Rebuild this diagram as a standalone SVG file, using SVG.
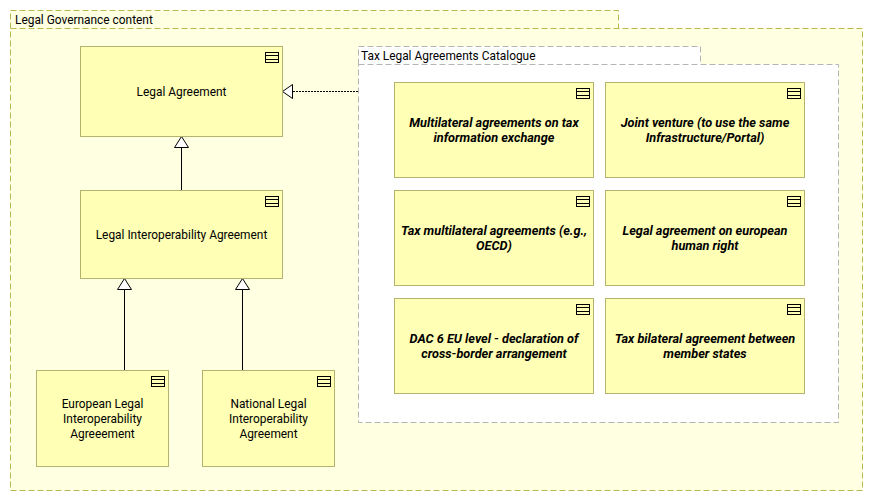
<svg xmlns="http://www.w3.org/2000/svg" width="873" height="501" viewBox="0 0 873 501">
<style>
text{font-family:"Roboto","Noto Sans","Liberation Sans",sans-serif;font-size:11.9px;fill:#000}
.c{text-anchor:middle}
.bi{font-weight:700;font-style:italic;font-size:12.7px}
.box{fill:#ffffb5;stroke:#b4b46e;stroke-width:1}
.ic{fill:none;stroke:#000;stroke-width:1}
.gy{fill:#ffffe1;stroke:#b9b94b;stroke-width:1;stroke-dasharray:6 3}
.gw{fill:#fff;stroke:#b4b4b4;stroke-width:1;stroke-dasharray:6 3}
.ln{fill:none;stroke:#000;stroke-width:1}
.hd{fill:#fff;stroke:#000;stroke-width:1}
</style>
<defs>
<g id="icon"><rect class="ic" x="0.5" y="0.5" width="13" height="10"/><path class="ic" d="M0.5 3.5H13.5M0.5 7.5H13.5"/></g>
</defs>
<rect width="873" height="501" fill="#fff"/>
<g id="legal-governance">
<path class="gy" d="M10.5 28.5V10.5H618.5V28.5"/>
<rect class="gy" x="10.5" y="28.5" width="852" height="462"/>
<path d="M11 11H618V28H11Z" fill="#ffffe1"/>
<text x="15" y="24">Legal Governance content</text>
</g>
<g id="catalogue">
<path class="gw" d="M358.5 64.5V46.5H700.5V64.5"/>
<rect class="gw" x="358.5" y="64.5" width="480" height="358"/>
<text x="361" y="60">Tax Legal Agreements Catalogue</text>
</g>
<g id="connectors">
<path class="ln" d="M181.5 190V148"/>
<path class="hd" d="M181.5 136.5L188.5 147.5H174.5Z"/>
<path class="ln" d="M124.5 370V290"/>
<path class="hd" d="M124.5 278.5L131.5 289.5H117.5Z"/>
<path class="ln" d="M242.5 370V290"/>
<path class="hd" d="M242.5 278.5L249.5 289.5H235.5Z"/>
<path class="ln" d="M358 91.5H293" stroke-dasharray="2 1"/>
<path class="hd" d="M282.5 91.5L292.5 84.5V98.5Z"/>
</g>
<g id="n1"><rect class="box" x="80.5" y="46.5" width="202" height="90"/><use href="#icon" x="265" y="52"/><text class="c" x="181.5" y="96">Legal Agreement</text></g>
<g id="n2"><rect class="box" x="80.5" y="190.5" width="202" height="88"/><use href="#icon" x="265" y="196"/><text class="c" x="181.5" y="239">Legal Interoperability Agreement</text></g>
<g id="n3"><rect class="box" x="36.5" y="370.5" width="132" height="96"/><use href="#icon" x="151" y="376"/><text class="c" x="102.5" y="408">European Legal</text><text class="c" x="102.5" y="423">Interoperability</text><text class="c" x="102.5" y="438">Agreeement</text></g>
<g id="n4"><rect class="box" x="202.5" y="370.5" width="132" height="96"/><use href="#icon" x="317" y="376"/><text class="c" x="268.5" y="408">National Legal</text><text class="c" x="268.5" y="423">Interoperability</text><text class="c" x="268.5" y="438">Agreement</text></g>
<g id="n5"><rect class="box" x="394.5" y="82.5" width="199" height="95"/><use href="#icon" x="576" y="88"/><text class="c bi" x="494" y="127">Multilateral agreements on tax</text><text class="c bi" x="494" y="142">information exchange</text></g>
<g id="n6"><rect class="box" x="605.5" y="82.5" width="199" height="95"/><use href="#icon" x="787" y="88"/><text class="c bi" x="705" y="127">Joint venture (to use the same</text><text class="c bi" x="705" y="142">Infrastructure/Portal)</text></g>
<g id="n7"><rect class="box" x="394.5" y="190.5" width="199" height="95"/><use href="#icon" x="576" y="196"/><text class="c bi" x="494" y="235">Tax multilateral agreements (e.g.,</text><text class="c bi" x="494" y="250">OECD)</text></g>
<g id="n8"><rect class="box" x="605.5" y="190.5" width="199" height="95"/><use href="#icon" x="787" y="196"/><text class="c bi" x="705" y="235">Legal agreement on european</text><text class="c bi" x="705" y="250">human right</text></g>
<g id="n9"><rect class="box" x="394.5" y="298.5" width="199" height="95"/><use href="#icon" x="576" y="304"/><text class="c bi" x="494" y="343">DAC 6 EU level - declaration of</text><text class="c bi" x="494" y="358">cross-border arrangement</text></g>
<g id="n10"><rect class="box" x="605.5" y="298.5" width="199" height="95"/><use href="#icon" x="787" y="304"/><text class="c bi" x="705" y="343">Tax bilateral agreement between</text><text class="c bi" x="705" y="358">member states</text></g>
</svg>
